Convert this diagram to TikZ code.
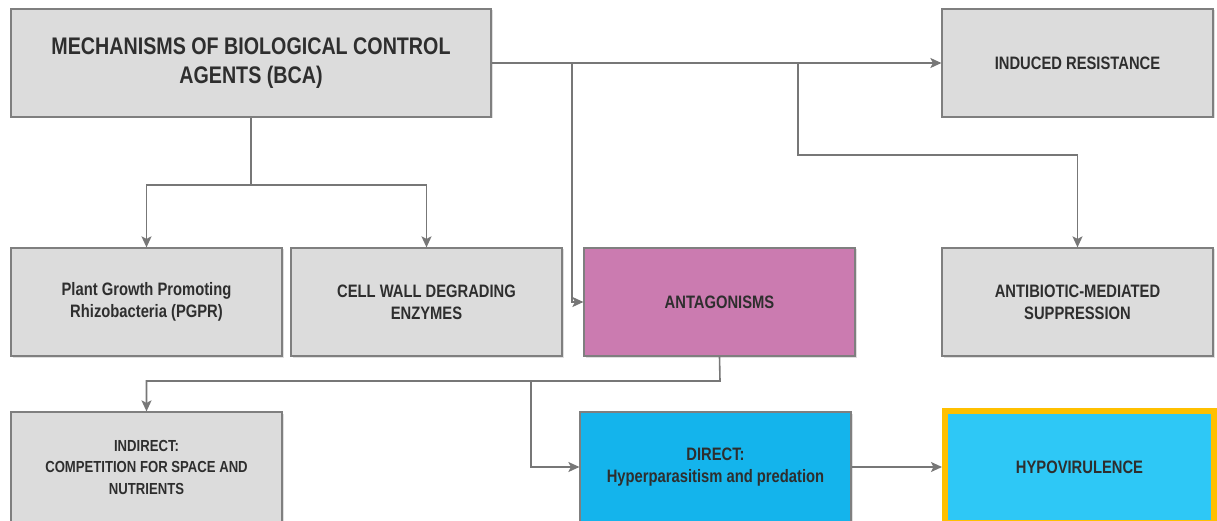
\documentclass[tikz,border=0pt]{standalone}
\usepackage{fontspec}
\setmainfont[FakeStretch=0.82]{Liberation Sans}
\usetikzlibrary{arrows.meta,shadows}
\definecolor{boxgray}{HTML}{DCDCDC}
\definecolor{edgegray}{HTML}{7F7F7F}
\definecolor{linegray}{HTML}{777777}
\definecolor{txt}{HTML}{2E2E2E}
\definecolor{antfill}{HTML}{CB7BB0}
\definecolor{dirfill}{HTML}{14B4EC}
\definecolor{hypofill}{HTML}{2EC8F6}
\definecolor{hypoedge}{HTML}{FFC000}
\begin{document}
\begin{tikzpicture}[x=1pt,y=-1pt,
  bx/.style={draw=edgegray,line width=1.2pt,fill=boxgray,rectangle,
    minimum width=271pt,minimum height=108pt,inner sep=0pt,align=center,
    text=txt,font=\bfseries\fontsize{18}{22}\selectfont,
    drop shadow={shadow xshift=1.5pt,shadow yshift=-1.5pt,opacity=0.25}},
  ln/.style={draw=linegray,line width=1.6pt},
  conn/.style={ln,-{Stealth[length=11pt,width=10pt,inset=2.5pt]}}]
\useasboundingbox (0,0) rectangle (1217,521);
\clip (0,0) rectangle (1217,521);
% nodes
\node[bx,minimum width=480pt,font=\bfseries\fontsize{24}{29}\selectfont] (main) at (251,63) {MECHANISMS OF BIOLOGICAL CONTROL\\AGENTS (BCA)};
\node[bx] (ind) at (1077.5,63) {INDUCED RESISTANCE};
\node[bx] (pgpr) at (146.5,302) {Plant Growth Promoting\\Rhizobacteria (PGPR)};
\node[bx] (cwde) at (426.5,302) {CELL WALL DEGRADING\\ENZYMES};
\node[bx,fill=antfill] (ant) at (719.5,302) {ANTAGONISMS};
\node[bx] (anti) at (1077.5,302) {ANTIBIOTIC-MEDIATED\\SUPPRESSION};
\node[bx,minimum height=110pt,font=\bfseries\fontsize{16}{21.5}\selectfont] (indir) at (146.5,467) {INDIRECT:\\COMPETITION FOR SPACE AND\\NUTRIENTS};
\node[bx,fill=dirfill,minimum height=110pt] (dir) at (715.5,467) {DIRECT:\\Hyperparasitism and predation};
\node[bx,fill=hypofill,draw=hypoedge,line width=6pt,minimum width=269pt,minimum height=112pt] (hypo) at (1079.5,467) {HYPOVIRULENCE};
% junctions
\coordinate (j1) at (572,63);
\coordinate (j2) at (798,63);
\coordinate (b1) at (251,185);
\coordinate (b2) at (720,381);
\coordinate (b3) at (531,381);
% connectors
\draw[conn] (main.east) -- (ind.west);
\draw[conn] (j1) |- (ant.west);
\draw[conn] (j2) -- (798,155) -| (anti.north);
\draw[ln] (main.south) -- (b1);
\draw[ln] (147,185) -- (427,185);
\draw[conn] (b1) -| (pgpr.north);
\draw[conn] (b1) -| (cwde.north);
\draw[conn] (ant.south) -- (b2) -| (indir.north);
\draw[conn] (b3) |- (dir.west);
\draw[conn] (dir.east) -- (hypo.west);
\end{tikzpicture}
\end{document}
